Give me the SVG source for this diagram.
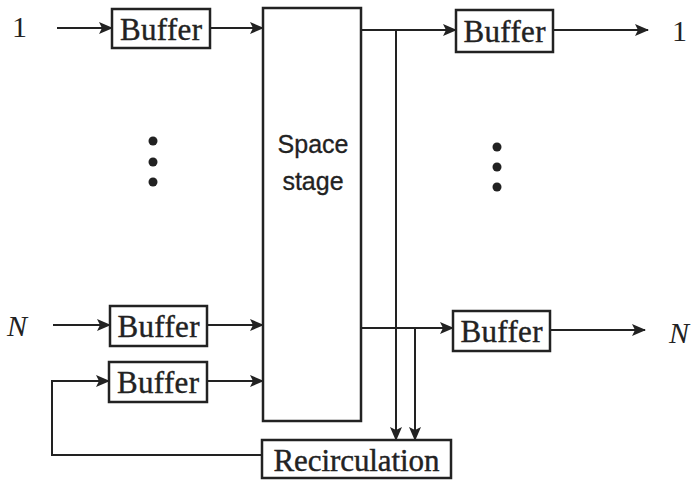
<svg xmlns="http://www.w3.org/2000/svg" width="696" height="481" viewBox="0 0 696 481">
<defs>
<marker id="ah" markerWidth="14" markerHeight="12" refX="13" refY="6" orient="auto" markerUnits="userSpaceOnUse">
<path d="M0,0 L14,6 L0,12 L3,6 Z" fill="#222"/>
</marker>
<style>
.box{fill:#fff;stroke:#222;stroke-width:2.5}
.ln{fill:none;stroke:#222;stroke-width:2}
.t{font-family:"Liberation Serif",serif;font-size:31px;fill:#222;stroke:#222;stroke-width:0.4}
.s{font-family:"Liberation Sans",sans-serif;font-size:25px;fill:#222;stroke:#222;stroke-width:0.3}
.lbl{font-family:"Liberation Serif",serif;font-size:30px;fill:#222}
.dot{fill:#222}
</style>
</defs>
<rect width="696" height="481" fill="#fff"/>
<g id="connectors">
<line class="ln" x1="57" y1="28" x2="112" y2="28" marker-end="url(#ah)"/>
<line class="ln" x1="211" y1="28" x2="263" y2="28" marker-end="url(#ah)"/>
<line class="ln" x1="53" y1="325" x2="110" y2="325" marker-end="url(#ah)"/>
<line class="ln" x1="208" y1="325" x2="263" y2="325" marker-end="url(#ah)"/>
<line class="ln" x1="208" y1="381" x2="263" y2="381" marker-end="url(#ah)"/>
<polyline class="ln" points="262,455 52,455 52,381 109,381" marker-end="url(#ah)"/>
<line class="ln" x1="362" y1="30" x2="456" y2="30" marker-end="url(#ah)"/>
<line class="ln" x1="553" y1="30" x2="648" y2="30" marker-end="url(#ah)"/>
<line class="ln" x1="357" y1="328" x2="453" y2="328" marker-end="url(#ah)"/>
<line class="ln" x1="550" y1="330" x2="645" y2="330" marker-end="url(#ah)"/>
<line class="ln" x1="396" y1="30" x2="396" y2="440" marker-end="url(#ah)"/>
<line class="ln" x1="415" y1="328" x2="415" y2="440" marker-end="url(#ah)"/>
</g>
<g id="in1"><text class="lbl" x="12" y="37">1</text></g>
<g id="inN"><text class="lbl" x="7" y="336" font-style="italic">N</text></g>
<g id="out1"><text class="lbl" x="672" y="41">1</text></g>
<g id="outN"><text class="lbl" x="669" y="343" font-style="italic">N</text></g>
<g id="buffer-in1"><rect class="box" x="112" y="9" width="98" height="39"/><text class="t" x="161" y="40" text-anchor="middle" textLength="82">Buffer</text></g>
<g id="buffer-inN"><rect class="box" x="110" y="306" width="97" height="40"/><text class="t" x="158.5" y="337" text-anchor="middle" textLength="82">Buffer</text></g>
<g id="buffer-rec"><rect class="box" x="109" y="362" width="98" height="40"/><text class="t" x="158" y="393" text-anchor="middle" textLength="82">Buffer</text></g>
<g id="space-stage"><rect class="box" x="263" y="8" width="98" height="413"/><text class="s" x="313" y="153" text-anchor="middle">Space</text><text class="s" x="313" y="190" text-anchor="middle">stage</text></g>
<g id="buffer-out1"><rect class="box" x="456" y="10" width="97" height="42"/><text class="t" x="504.5" y="42" text-anchor="middle" textLength="82">Buffer</text></g>
<g id="buffer-outN"><rect class="box" x="453" y="311" width="97" height="40"/><text class="t" x="501.5" y="342" text-anchor="middle" textLength="82">Buffer</text></g>
<g id="recirculation"><rect class="box" x="262" y="440" width="189" height="38"/><text class="t" x="356.5" y="471" text-anchor="middle" textLength="166">Recirculation</text></g>
<g id="dots-left"><circle class="dot" cx="153" cy="141" r="4.5"/><circle class="dot" cx="153" cy="162" r="4.5"/><circle class="dot" cx="153" cy="182" r="4.5"/></g>
<g id="dots-right"><circle class="dot" cx="497" cy="147" r="4.5"/><circle class="dot" cx="497" cy="167" r="4.5"/><circle class="dot" cx="497" cy="187" r="4.5"/></g>
</svg>
